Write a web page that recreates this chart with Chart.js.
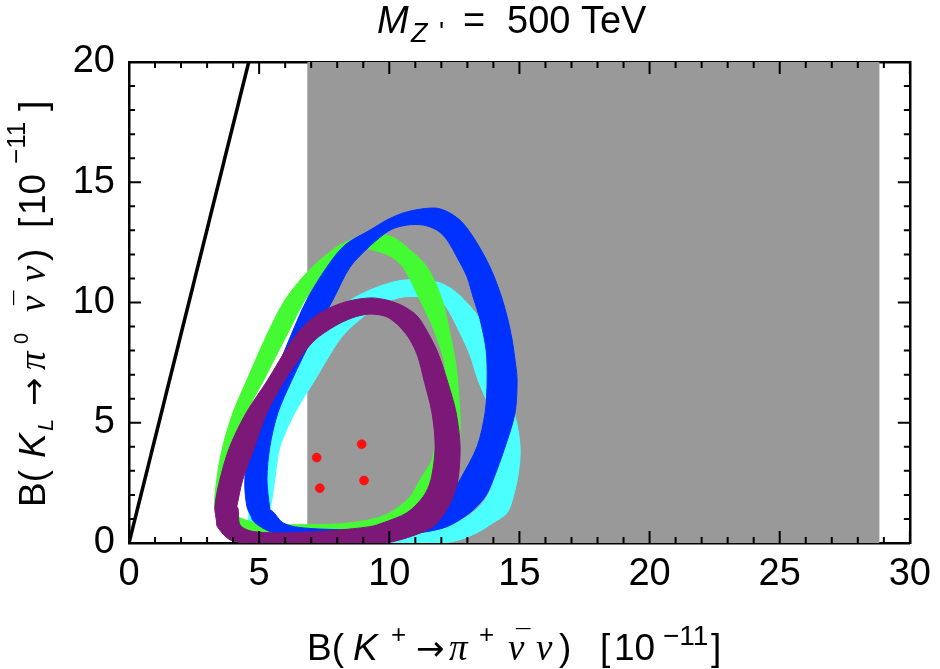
<!DOCTYPE html>
<html><head><meta charset="utf-8">
<script src="https://cdn.jsdelivr.net/npm/chart.js@4.4.1/dist/chart.umd.min.js"></script>
<style>html,body{margin:0;padding:0;background:#fff;}#wrap{width:940px;height:669px;}</style>
</head><body><div id="wrap"><canvas id="c" width="940" height="669"></canvas></div>
<script>
// ---- data ----
const xRange = [0, 30];
const yRange = [0, 20];
const xTickLabels = [0, 5, 10, 15, 20, 25, 30];
const yTickLabels = [0, 5, 10, 15, 20];
const excludedX = [6.85, 28.83];           // grey band in B(K+)
const gnBound = [[0, 0], [4.6, 20]];       // Grossman-Nir line
const redPoints = [[7.21, 3.55], [8.94, 4.11], [7.33, 2.28], [9.03, 2.60]];

const greenOuter = [[3.57,0.55],[3.30,1.38],[3.37,2.63],[3.60,4.00],[3.99,5.41],[4.53,6.78],[5.33,8.73],[5.99,10.10],[6.68,11.06],[7.33,11.76],[8.10,12.39],[8.76,12.68],[9.45,12.84],[10.03,12.76],[10.49,12.47],[11.45,11.47],[12.03,10.10],[12.33,8.73],[12.57,7.32],[12.68,5.95],[12.72,4.71],[12.60,3.46],[12.33,2.42],[11.95,1.59],[11.37,0.97],[10.61,0.55],[9.64,0.30],[8.10,0.22],[6.57,0.22],[5.03,0.26],[4.07,0.34]];
const greenInner = [[4.18,1.05],[4.10,1.59],[4.10,2.63],[4.26,4.00],[4.53,5.41],[5.18,6.78],[6.10,8.73],[6.76,10.10],[7.33,11.06],[8.22,12.18],[8.87,12.30],[9.37,12.18],[10.03,11.93],[10.53,11.47],[11.18,10.10],[11.76,8.73],[12.14,7.32],[12.03,5.95],[11.83,4.71],[11.64,3.46],[11.18,2.63],[10.80,1.92],[10.03,1.26],[9.26,0.97],[8.10,0.80],[6.57,0.76],[5.03,0.80],[4.45,0.97]];

const blueOuter = [[4.72,1.05],[4.53,1.51],[4.45,2.63],[4.64,4.00],[5.10,5.41],[5.53,6.78],[6.26,8.73],[6.83,10.10],[7.60,11.47],[8.30,12.39],[9.26,13.01],[9.91,13.43],[10.53,13.72],[11.18,13.88],[11.83,13.92],[12.33,13.72],[12.83,13.30],[13.37,12.47],[13.87,11.47],[14.26,10.40],[14.53,9.40],[14.72,8.44],[14.83,7.61],[14.91,6.78],[14.83,5.41],[14.45,4.00],[13.99,2.63],[13.68,1.92],[13.10,1.26],[12.22,0.68],[11.18,0.43],[9.64,0.30],[8.10,0.26],[6.57,0.26],[5.80,0.34],[5.10,0.64]];
const blueInner = [[5.41,1.38],[5.30,2.63],[5.41,4.00],[5.72,5.41],[6.26,6.78],[7.14,8.73],[7.83,10.10],[8.49,11.47],[9.26,12.35],[10.03,13.01],[10.68,13.22],[11.30,13.22],[11.83,13.01],[12.22,12.60],[12.60,11.89],[12.99,11.06],[13.22,10.23],[13.49,9.28],[13.72,8.03],[13.76,6.78],[13.68,5.41],[13.37,4.00],[12.72,2.63],[12.33,1.92],[11.68,1.26],[10.91,0.84],[9.91,0.55],[9.26,0.51],[8.10,0.55],[6.57,0.64],[5.91,0.84]];

const cyanOuter = [[4.57,0.55],[4.64,1.59],[4.87,2.63],[5.18,4.00],[5.64,5.41],[6.18,6.78],[6.76,8.03],[7.41,9.07],[8.22,9.90],[9.26,10.52],[10.53,10.93],[11.83,10.85],[12.45,10.52],[12.99,9.98],[13.49,9.28],[13.87,8.24],[14.26,6.99],[14.64,5.95],[14.91,4.91],[15.03,3.88],[14.95,2.84],[14.76,1.92],[14.53,1.26],[13.99,0.84],[13.37,0.43],[12.60,0.10],[11.57,-0.07],[10.41,-0.07],[8.49,-0.03],[6.57,0.05],[5.22,0.22]];
const cyanInner = [[5.33,0.97],[5.49,1.80],[5.60,2.63],[5.80,4.00],[6.37,5.41],[7.14,6.78],[7.83,8.03],[8.30,8.73],[8.99,9.40],[9.64,9.90],[10.53,10.23],[11.57,10.19],[12.03,10.02],[12.41,9.40],[12.72,8.73],[13.10,7.82],[13.41,6.78],[13.80,5.74],[14.07,4.71],[14.14,3.67],[14.03,2.63],[13.68,1.80],[13.10,1.18],[12.33,0.76],[11.18,0.47],[9.64,0.47],[7.72,0.51],[6.18,0.55]];

const purpleOuter = [[3.37,0.84],[3.30,1.51],[3.49,2.63],[3.87,4.00],[4.50,5.41],[5.33,6.78],[5.91,7.82],[6.57,8.86],[7.33,9.56],[8.30,10.02],[9.26,10.19],[9.91,10.10],[10.53,9.85],[11.07,9.44],[11.49,8.73],[11.87,7.90],[12.22,6.78],[12.57,5.41],[12.72,4.00],[12.64,2.63],[12.45,1.92],[12.14,1.26],[11.68,0.68],[10.80,0.26],[9.91,0.01],[8.49,-0.11],[6.57,-0.11],[5.03,-0.07],[3.95,0.10],[3.57,0.43]];
const purpleInner = [[4.14,1.51],[4.37,2.63],[4.83,4.00],[5.30,5.41],[5.99,6.78],[6.57,7.70],[7.14,8.44],[7.91,9.02],[8.57,9.36],[9.26,9.52],[9.91,9.40],[10.41,8.98],[10.80,8.44],[11.10,7.74],[11.33,6.78],[11.64,5.41],[11.76,4.00],[11.60,2.63],[11.30,1.92],[10.68,1.26],[9.76,0.84],[9.26,0.68],[7.72,0.51],[6.18,0.43],[5.30,0.43],[4.64,0.51],[4.26,0.76]];

// ---- helpers ----
const xy = arr => arr.map(([x, y]) => ({x, y}));
// band = outer loop (clockwise) + inner loop traversed the other way -> hole
function band(outer, inner) {
  return xy([...outer, outer[0], inner[0], ...inner.slice(1).reverse(), inner[0]]);
}
function ringDataset(label, outer, inner, color, order) {
  return {label, data: band(outer, inner), showLine: true, fill: 'shape',
    backgroundColor: color, borderColor: color, borderWidth: 1, pointRadius: 0,
    pointHoverRadius: 0, tension: 0.3, order};
}

const SANS = '"Liberation Sans", Arial, sans-serif';
const SERIF = '"Liberation Serif", "Times New Roman", serif';
const ARROW = '"DejaVu Sans", sans-serif';

function drawPieces(ctx, pieces) {
  for (const p of pieces) { ctx.font = p.f; ctx.fillText(p.t, p.x, p.y); }
}

const textPlugin = {
  id: 'texts',
  afterDraw(chart) {
    const ctx = chart.ctx;
    ctx.save();
    ctx.fillStyle = '#000';
    ctx.textBaseline = 'alphabetic';
    ctx.textAlign = 'left';
    const main = '37px ' + SANS, it = 'italic 37px ' + SANS, gr = 'italic 37px ' + SERIF;
    const arr = '34px ' + ARROW;
    const sup = '26px ' + SANS, sup28 = '28px ' + SANS;
    // title
    drawPieces(ctx, [
      {t: 'M', f: 'italic 38px ' + SANS, x: 377, y: 33},
      {t: 'Z', f: 'italic 27px ' + SANS, x: 411, y: 42},
      {t: "'", f: '27px ' + SANS, x: 439, y: 41},
      {t: '=', f: '38px ' + SANS, x: 463, y: 33},
      {t: '500 TeV', f: '38px ' + SANS, x: 507, y: 33}
    ]);
    // x title
    drawPieces(ctx, [
      {t: 'B(', f: main, x: 307, y: 660},
      {t: 'K', f: it, x: 353, y: 660},
      {t: '+', f: sup, x: 391, y: 643},
      {t: '\u2192', f: arr, x: 416, y: 660},
      {t: '\u03c0', f: gr, x: 449, y: 660},
      {t: '+', f: sup, x: 479, y: 643},
      {t: '\u03bd', f: gr, x: 508, y: 660},
      {t: '\u00af', f: sup, x: 516, y: 648},
      {t: '\u03bd', f: gr, x: 536, y: 660},
      {t: ')', f: main, x: 559, y: 660},
      {t: '[', f: main, x: 600, y: 660},
      {t: '10', f: main, x: 614, y: 660},
      {t: '\u221211', f: sup28, x: 663, y: 645},
      {t: ']', f: main, x: 711, y: 660}
    ]);
    // y title (rotated)
    ctx.translate(45, 507);
    ctx.rotate(-Math.PI / 2);
    drawPieces(ctx, [
      {t: 'B(', f: main, x: 0, y: 0},
      {t: 'K', f: it, x: 49, y: 0},
      {t: 'L', f: 'italic 22px ' + SANS, x: 76, y: 8},
      {t: '\u2192', f: arr, x: 101, y: 0},
      {t: '\u03c0', f: gr, x: 137, y: 0},
      {t: '0', f: '20px ' + SANS, x: 163, y: -17},
      {t: '\u03bd', f: gr, x: 195, y: 0},
      {t: '\u00af', f: sup, x: 202, y: -12},
      {t: '\u03bd', f: gr, x: 225, y: 0},
      {t: ')', f: main, x: 246, y: 0},
      {t: '[', f: main, x: 279, y: 0},
      {t: '10', f: main, x: 292, y: 0},
      {t: '\u221211', f: sup, x: 343, y: -20},
      {t: ']', f: main, x: 396, y: 0}
    ]);
    ctx.restore();
  }
};

const innerTicks = {
  id: 'innerTicks',
  afterDraw(chart) {
    const {ctx, chartArea: a, scales} = chart;
    ctx.save();
    ctx.strokeStyle = '#000';
    ctx.lineWidth = 2;
    ctx.beginPath();
    const len = v => (Math.abs(v % 5) < 1e-9 ? 12 : 6);
    for (const t of scales.x.ticks) {
      const p = scales.x.getPixelForValue(t.value);
      ctx.moveTo(p, a.bottom); ctx.lineTo(p, a.bottom - len(t.value));
    }
    for (const t of scales.x2.ticks) {
      const p = scales.x2.getPixelForValue(t.value);
      ctx.moveTo(p, a.top); ctx.lineTo(p, a.top + len(t.value));
    }
    for (const t of scales.y.ticks) {
      const p = scales.y.getPixelForValue(t.value);
      ctx.moveTo(a.left, p); ctx.lineTo(a.left + len(t.value), p);
    }
    for (const t of scales.y2.ticks) {
      const p = scales.y2.getPixelForValue(t.value);
      ctx.moveTo(a.right, p); ctx.lineTo(a.right - len(t.value), p);
    }
    ctx.stroke();
    ctx.restore();
  }
};

const tickFont = {family: SANS, size: 38};
const labelFn = list => v => (list.includes(v) ? String(v) : '');
const hiddenAxis = (pos, range, axisFit) => ({
  type: 'linear', position: pos, min: range[0], max: range[1],
  ticks: {display: false, stepSize: 1, maxTicksLimit: 100},
  grid: {display: true, drawOnChartArea: false, drawTicks: false},
  border: {display: true, color: '#000', width: 2.5},
  afterFit: axisFit
});

new Chart(document.getElementById('c'), {
  type: 'scatter',
  data: {
    datasets: [
      {label: 'excluded', data: xy([[excludedX[0], yRange[0]], [excludedX[0], yRange[1]], [excludedX[1], yRange[1]], [excludedX[1], yRange[0]]]),
        showLine: true, fill: 'shape', backgroundColor: '#999999', borderColor: 'rgba(0,0,0,0)', borderWidth: 1,
        pointRadius: 0, order: 20},
      {label: 'GN bound', data: xy(gnBound), showLine: true, borderColor: '#000', borderWidth: 3.5, pointRadius: 0, fill: false, order: 19},
      ringDataset('cyan', cyanOuter, cyanInner, '#4cffff', 14),
      ringDataset('green', greenOuter, greenInner, '#44fb33', 13),
      ringDataset('blue', blueOuter, blueInner, '#0032ff', 12),
      ringDataset('purple', purpleOuter, purpleInner, '#7b1878', 11),
      {label: 'points', data: xy(redPoints), showLine: false, pointRadius: 4.5, pointBackgroundColor: '#ff1010',
        pointBorderColor: 'rgba(255,0,0,0.5)', pointBorderWidth: 1, order: 1}
    ]
  },
  options: {
    responsive: false,
    animation: false,
    devicePixelRatio: 1,
    layout: {padding: {top: 62, right: 30, bottom: 0, left: 0}},
    plugins: {legend: {display: false}, tooltip: {enabled: false}, title: {display: false}, filler: {propagate: false}},
    scales: {
      x: {type: 'linear', position: 'bottom', min: xRange[0], max: xRange[1],
        ticks: {stepSize: 1, maxTicksLimit: 100, autoSkip: false, maxRotation: 0, minRotation: 0,
          padding: 9, color: '#000', font: tickFont, callback: labelFn(xTickLabels)},
        grid: {display: true, drawOnChartArea: false, drawTicks: false},
        border: {display: true, color: '#000', width: 2.5},
        afterFit: s => { s.height = 126; }},
      x2: hiddenAxis('top', xRange, s => { s.height = 0; }),
      y: {type: 'linear', position: 'left', min: yRange[0], max: yRange[1],
        ticks: {stepSize: 1, maxTicksLimit: 100, autoSkip: false, padding: 14, color: '#000', font: tickFont,
          callback: labelFn(yTickLabels)},
        grid: {display: true, drawOnChartArea: false, drawTicks: false},
        border: {display: true, color: '#000', width: 2.5},
        afterFit: s => { s.width = 129; }},
      y2: hiddenAxis('right', yRange, s => { s.width = 0; })
    }
  },
  plugins: [innerTicks, textPlugin]
});
</script>
</body></html>
